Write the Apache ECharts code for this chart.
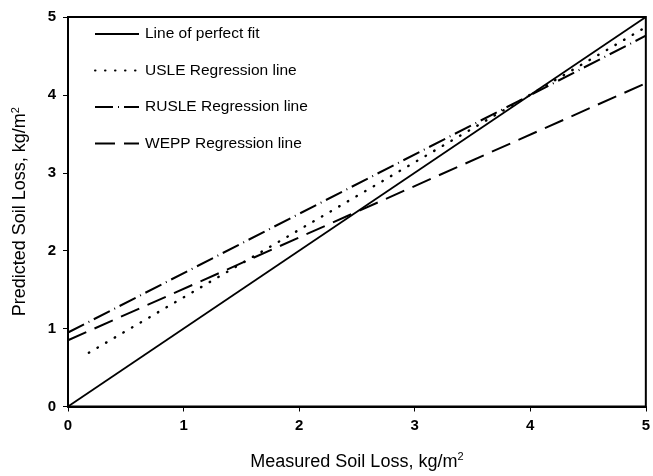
<!DOCTYPE html>
<html>
<head>
<meta charset="utf-8">
<style>html,body{margin:0;padding:0;background:#fff;}#c{width:653px;height:476px;}</style>
<script src="https://cdn.jsdelivr.net/npm/echarts@6/dist/echarts.min.js"></script>
</head>
<body>
<div id="c"></div>
<script>
const seriesNames = ['Line of perfect fit', 'USLE Regression line', 'RUSLE Regression line', 'WEPP Regression line'];
const perfectX = [0, 5];
const perfectY = [0, 5];
const usleX = [0.18, 5];
const usleY = [0.69, 4.87];
const rusleX = [0, 5];
const rusleY = [0.95, 4.76];
const weppX = [0, 5];
const weppY = [0.85, 4.15];
const xTicks = [0, 1, 2, 3, 4, 5];
const yTicks = [0, 1, 2, 3, 4, 5];

const pairs = (xs, ys) => xs.map((x, i) => [x, ys[i]]);
const font = '"Liberation Sans", Arial, sans-serif';
const chart = echarts.init(document.getElementById('c'), null, {renderer: 'canvas'});
const mk = (name, data, type, width, cap) => ({
  name, type: 'line', data, symbol: 'none', silent: true, animation: false,
  itemStyle: {color: '#000'},
  lineStyle: {color: '#000', width, type, cap: cap || 'butt'}
});
const supRich = {sup: {fontSize: 11, verticalAlign: 'top', padding: [0, 0, 10, 0], fontFamily: font, color: '#000'}};
chart.setOption({
  animation: false,
  backgroundColor: '#fff',
  grid: {left: 68, right: 5, top: 17, bottom: 61, show: true, borderColor: '#000', borderWidth: 2, backgroundColor: 'transparent'},
  legend: {
    orient: 'vertical', left: 89, top: 21, itemWidth: 44, itemHeight: 16, itemGap: 20.5,
    data: seriesNames,
    itemStyle: {opacity: 0},
    textStyle: {fontFamily: font, fontSize: 15.5, color: '#000', padding: [0, 0, 0, 1]}
  },
  xAxis: {
    type: 'value', min: xTicks[0], max: xTicks[xTicks.length - 1], interval: 1,
    name: 'Measured Soil Loss, kg/m{sup|2}', nameLocation: 'middle', nameGap: 45,
    nameTextStyle: {fontFamily: font, fontSize: 18, color: '#000', rich: supRich},
    axisLine: {show: true, lineStyle: {color: '#000', width: 2}},
    axisTick: {show: true, inside: false, length: 5, lineStyle: {color: '#000', width: 1}},
    axisLabel: {fontFamily: font, fontSize: 15, fontWeight: 'bold', color: '#000', margin: 12},
    splitLine: {show: false}
  },
  yAxis: {
    type: 'value', min: yTicks[0], max: yTicks[yTicks.length - 1], interval: 1,
    name: 'Predicted Soil Loss, kg/m{sup|2}', nameLocation: 'middle', nameGap: 37,
    nameTextStyle: {fontFamily: font, fontSize: 18, color: '#000', rich: supRich},
    axisLine: {show: true, lineStyle: {color: '#000', width: 2}},
    axisTick: {show: true, inside: false, length: 5, lineStyle: {color: '#000', width: 1}},
    axisLabel: {fontFamily: font, fontSize: 15, fontWeight: 'bold', color: '#000', margin: 12},
    splitLine: {show: false}
  },
  series: [
    mk(seriesNames[0], pairs(perfectX, perfectY), 'solid', 1.8),
    mk(seriesNames[1], pairs(usleX, usleY), [0.5, 9.5], 2.4, 'round'),
    mk(seriesNames[2], pairs(rusleX, rusleY), [18, 5, 1, 5], 2),
    mk(seriesNames[3], pairs(weppX, weppY), [20, 9], 2)
  ]
});
</script>
</body>
</html>
